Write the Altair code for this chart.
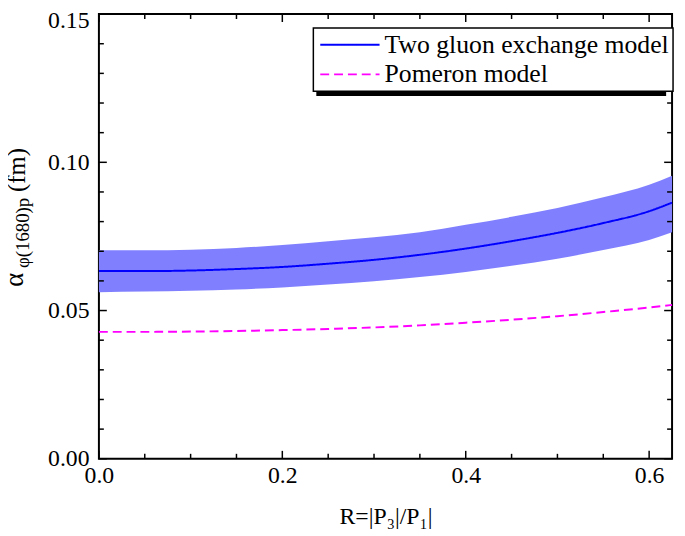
import altair as alt
import pandas as pd

# ---------------- data ----------------
R = [0.0, 0.05, 0.1, 0.15, 0.2, 0.25, 0.3, 0.35, 0.4, 0.45, 0.5, 0.55, 0.6, 0.625]
two_gluon = [0.0633, 0.0633, 0.0635, 0.0640, 0.0647, 0.0658, 0.0671, 0.0688, 0.0709,
             0.0734, 0.0762, 0.0795, 0.0835, 0.0864]
band_high = [0.0703, 0.0703, 0.0705, 0.0711, 0.0721, 0.0734, 0.0747, 0.0764, 0.0789,
             0.0816, 0.0846, 0.0882, 0.0924, 0.0955]
band_low = [0.0562, 0.0564, 0.0567, 0.0571, 0.0578, 0.0588, 0.0599, 0.0613, 0.0630,
            0.0651, 0.0675, 0.0704, 0.0738, 0.0764]
pomeron = [0.0428, 0.0428, 0.0429, 0.0431, 0.0434, 0.0438, 0.0443, 0.0450, 0.0459,
           0.0469, 0.0481, 0.0495, 0.0510, 0.0519]
model_names = ["Two gluon exchange model", "Pomeron model"]

x_major = [0.0, 0.2, 0.4, 0.6]
x_minor = [0.05, 0.1, 0.15, 0.25, 0.3, 0.35, 0.45, 0.5, 0.55]
y_major = [0.0, 0.05, 0.10, 0.15]
y_minor = [0.01, 0.02, 0.03, 0.04, 0.06, 0.07, 0.08, 0.09, 0.11, 0.12, 0.13, 0.14]

# ---------------- layout / style ----------------
W, H = 580, 450
FONT = "Liberation Serif"
MAJ, MIN = 8, 5

band_df = pd.DataFrame({"R": R, "low": band_low, "high": band_high})
n = len(R)
line_df = pd.DataFrame({
    "R": R + R,
    "value": two_gluon + pomeron,
    "model": [model_names[0]] * n + [model_names[1]] * n,
})

xscale = alt.Scale(domain=[0, 0.625], nice=False, zero=False)
yscale = alt.Scale(domain=[0, 0.15], nice=False, zero=False)

xaxis = alt.Axis(values=x_major, format=".1f", ticks=False, domain=False, grid=False,
                 labelFont=FONT, labelFontSize=24, labelColor="black", labelPadding=5,
                 labelFlush=False, title="R=|P₃|/P₁|", titleFont=FONT, titleFontSize=24,
                 titleFontWeight="normal", titleColor="black", titlePadding=18)
yaxis = alt.Axis(values=y_major, format=".2f", ticks=False, domain=False, grid=False,
                 labelFont=FONT, labelFontSize=24, labelColor="black", labelPadding=10,
                 labelFlush=False, title=None,
                 labelOffset={"condition": {"test": "datum.value >= 0.149", "value": 7}, "value": 0})

band = alt.Chart(band_df).mark_area(color="#8080ff", opacity=1, interpolate="monotone").encode(
    x=alt.X("R:Q", scale=xscale, axis=xaxis),
    y=alt.Y("low:Q", scale=yscale, axis=yaxis),
    y2="high:Q",
)

lines = alt.Chart(line_df).mark_line(interpolate="monotone", strokeWidth=2).encode(
    x=alt.X("R:Q", scale=xscale, axis=xaxis),
    y=alt.Y("value:Q", scale=yscale, axis=yaxis),
    color=alt.Color("model:N", scale=alt.Scale(domain=model_names, range=["#0000ff", "#ff00ff"]),
                    title=None),
    strokeDash=alt.StrokeDash("model:N", scale=alt.Scale(domain=model_names, range=[[1, 0], [9, 5]]),
                              title=None),
)


def xticks(values, length, top):
    df = pd.DataFrame({"v": values})
    if top:
        y1, y2 = alt.value(0), alt.value(length)
    else:
        y1, y2 = alt.value(H), alt.value(H - length)
    return alt.Chart(df).mark_rule(color="black", strokeWidth=1.5).encode(
        x=alt.X("v:Q", scale=xscale, axis=xaxis), y=y1, y2=y2)


def yticks(values, length, right):
    df = pd.DataFrame({"v": values})
    if right:
        x1, x2 = alt.value(W), alt.value(W - length)
    else:
        x1, x2 = alt.value(0), alt.value(length)
    return alt.Chart(df).mark_rule(color="black", strokeWidth=1.5).encode(
        y=alt.Y("v:Q", scale=yscale, axis=yaxis), x=x1, x2=x2)


ticks = [
    xticks(x_major, MAJ, False), xticks(x_minor, MIN, False),
    xticks(x_major, MAJ, True), xticks(x_minor, MIN, True),
    yticks(y_major, MAJ, False), yticks(y_minor, MIN, False),
    yticks(y_major, MAJ, True), yticks(y_minor, MIN, True),
]

one = pd.DataFrame({"a": [0]})


def ytitle_part(txt, size, x, y):
    return alt.Chart(one).mark_text(text=txt, angle=270, align="left", baseline="alphabetic",
                                    font=FONT, fontSize=size, color="black").encode(
        x=alt.value(x), y=alt.value(y))


ytitle = [
    ytitle_part("α", 27, -77, 276),
    ytitle_part("φ(1680)p", 19, -71, 257),
    ytitle_part("(fm)", 25, -75, 180),
]

# legend shadow
shadow = alt.Chart(one).mark_rect(color="black", opacity=1).encode(
    x=alt.value(220), x2=alt.value(574), y=alt.value(17), y2=alt.value(83))

chart = alt.layer(band, *ticks, lines, shadow, *ytitle).properties(
    width=W, height=H,
    autosize=alt.AutoSizeParams(type="none"),
    padding={"left": 92, "top": 3, "right": 5, "bottom": 75},
    background="white",
).configure(
    font=FONT,
    style={"guide-label": {"font": FONT}, "guide-title": {"font": FONT}},
).configure_axis(
    labelFont=FONT, titleFont=FONT
).configure_view(
    stroke="black", strokeWidth=2
).configure_legend(
    orient="none", legendX=217, legendY=14,
    fillColor="white", strokeColor="black", strokeWidth=1.5, cornerRadius=0,
    padding=4, symbolType="M-1,0H5", symbolSize=400, symbolStrokeWidth=2,
    labelFont=FONT, labelFontSize=26, labelColor="black", labelOffset=42,
    rowPadding=4, labelLimit=400,
)

chart.save("out.html", embed_options={"renderer": "svg", "actions": False})
